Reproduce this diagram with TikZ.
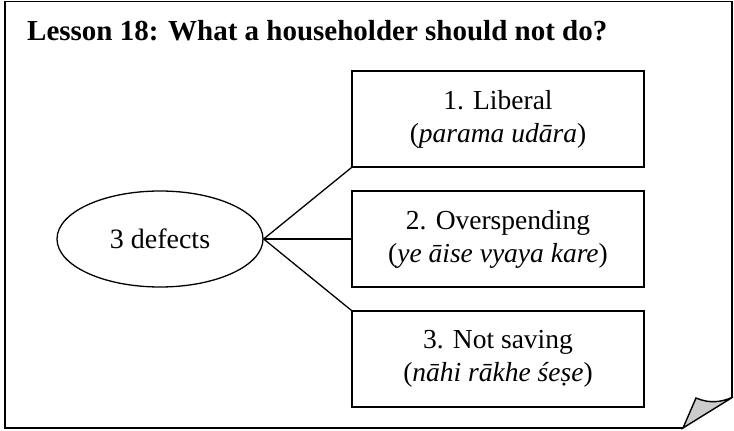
\documentclass[tikz,border=0pt]{standalone}
\usepackage{fontspec}
\setmainfont{Liberation Serif}
\usetikzlibrary{shapes.geometric}
\tikzset{
  frame/.style={draw, line width=1.8pt, line join=miter},
  item/.style={draw, line width=1.3pt, minimum width=292pt, minimum height=96pt,
    align=center, font=\fontsize{27.5}{33}\selectfont, inner sep=0pt},
  hub/.style={draw, ellipse, line width=1.3pt, minimum width=206pt, minimum height=96pt,
    inner sep=0pt, font=\fontsize{28}{33}\selectfont},
  link/.style={line width=1.3pt},
  title/.style={anchor=base west, inner sep=0pt, font=\fontsize{29}{33}\selectfont\bfseries}
}
\begin{document}
\begin{tikzpicture}[x=1pt, y=-1pt]
\useasboundingbox (0,0) rectangle (734,431);
\fill[white] (0,0) rectangle (734,431);

% page outline with a turned-up corner
\draw[frame] (732,397) -- (732,1.5) -- (5,1.5) -- (5,428) -- (683,428);
\filldraw[frame, fill=black!20, line width=1.4pt]
  (683,428) -- (696,398) .. controls (710,404) and (722,402) .. (733,397) -- cycle;

\node[title] (head) at (27,40) {Lesson 18: What a householder should not do?};

\node[hub] (hub) at (160,239) {3 defects};

\node[item] (d1) at (498,119) {1. Liberal\\(\textit{parama udāra})};
\node[item] (d2) at (498,239) {2. Overspending\\(\textit{ye āise vyaya kare})};
\node[item] (d3) at (498,359) {3. Not saving\\(\textit{nāhi rākhe śeṣe})};

\draw[link] (hub.east) -- (d1.south west);
\draw[link] (hub.east) -- (d2.west);
\draw[link] (hub.east) -- (d3.north west);
\end{tikzpicture}
\end{document}
